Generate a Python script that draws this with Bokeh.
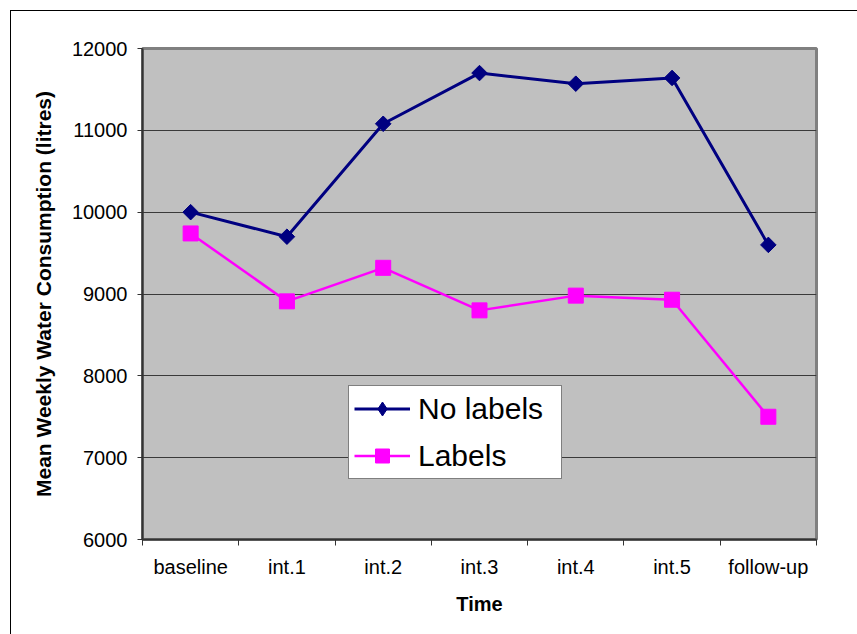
import math

from bokeh.embed import file_html
from bokeh.resources import INLINE
from bokeh.plotting import figure
from bokeh.models import FixedTicker, Legend, LegendItem, Range1d

# Mean weekly water consumption (litres) per time point
categories = ["baseline", "int.1", "int.2", "int.3", "int.4", "int.5", "follow-up"]
no_labels = [10000, 9700, 11080, 11700, 11570, 11640, 9600]
labels = [9740, 8910, 9320, 8800, 8980, 8930, 7500]
y_ticks = [6000, 7000, 8000, 9000, 10000, 11000, 12000]

# categories sit at the centre of unit-wide slots; ticks mark the slot edges
xs = [i + 0.5 for i in range(len(categories))]

FONT = "Liberation Sans"

p = figure(
    width=847, height=624,
    x_range=Range1d(0, len(categories)), y_range=Range1d(6000, 12000),
    output_backend="svg", toolbar_location=None,
    min_border_left=131, min_border_right=42,
    min_border_top=37, min_border_bottom=96,
)
p.styles = {
    "margin-left": "10px", "margin-top": "10px",
    "border-left": "1px solid #000000", "border-top": "1px solid #000000",
}

p.background_fill_color = "#C0C0C0"
p.border_fill_color = "white"
p.outline_line_color = "#808080"
p.outline_line_width = 3

# y axis
p.yaxis.ticker = FixedTicker(ticks=y_ticks)
p.yaxis.axis_line_color = "#333333"
p.yaxis.axis_line_width = 2
p.yaxis.major_tick_out = 5
p.yaxis.major_tick_in = 0
p.yaxis.major_tick_line_color = "#333333"
p.yaxis.minor_tick_line_color = None
p.yaxis.major_label_text_font = FONT
p.yaxis.major_label_text_font_size = "20px"
p.yaxis.major_label_text_color = "black"
p.yaxis.major_label_standoff = 10
p.yaxis.axis_label = "Mean Weekly Water Consumption (litres)"
p.yaxis.axis_label_text_font = FONT
p.yaxis.axis_label_text_font_size = "21px"
p.yaxis.axis_label_text_font_style = "bold"
p.yaxis.axis_label_text_color = "black"
p.yaxis.axis_label_standoff = 14

# x axis: labels at slot centres, tick marks at slot edges
p.xaxis.ticker = FixedTicker(ticks=xs, minor_ticks=list(range(len(categories) + 1)))
p.xaxis.major_label_overrides = {x: c for x, c in zip(xs, categories)}
p.xaxis.axis_line_color = "#333333"
p.xaxis.axis_line_width = 2
p.xaxis.major_tick_line_color = None
p.xaxis.minor_tick_out = 6
p.xaxis.minor_tick_in = 0
p.xaxis.minor_tick_line_color = "#333333"
p.xaxis.major_label_text_font = FONT
p.xaxis.major_label_text_font_size = "20px"
p.xaxis.major_label_text_color = "black"
p.xaxis.major_label_standoff = 10
p.xaxis.axis_label = "Time"
p.xaxis.axis_label_text_font = FONT
p.xaxis.axis_label_text_font_size = "20px"
p.xaxis.axis_label_text_font_style = "bold"
p.xaxis.axis_label_text_color = "black"
p.xaxis.axis_label_standoff = 12

p.xgrid.grid_line_color = None
p.ygrid.ticker = FixedTicker(ticks=y_ticks[1:-1])
p.ygrid.grid_line_color = "#3a3a3a"
p.ygrid.grid_line_width = 1.2

NAVY = "#000080"
MAGENTA = "#FF00FF"

l1 = p.line(xs, no_labels, line_color=NAVY, line_width=3)
# diamond keys: the narrow diamond supplies the legend swatch, the square
# turned by 45 degrees drawn over it gives the wide diamond on the chart
m1_key = p.scatter(xs, no_labels, marker="diamond", size=14,
                   fill_color=NAVY, line_color=NAVY)
p.scatter(xs, no_labels, marker="square", angle=math.pi / 4, size=11,
          fill_color=NAVY, line_color=NAVY)
l2 = p.line(xs, labels, line_color=MAGENTA, line_width=2.5)
m2 = p.scatter(xs, labels, marker="square", size=15,
               fill_color=MAGENTA, line_color=MAGENTA)

legend = Legend(
    items=[LegendItem(label="No labels", renderers=[l1, m1_key]),
           LegendItem(label="Labels", renderers=[l2, m2])],
    location=(206, 60),
    label_text_font=FONT, label_text_font_size="30px", label_text_color="black",
    glyph_width=56, glyph_height=35, label_height=35, label_width=138,
    label_standoff=8, spacing=12, padding=5, margin=0,
    border_line_color="black", border_line_width=1.5,
    background_fill_color="white", background_fill_alpha=1,
)
p.add_layout(legend, "center")

open("out.html", "w").write(file_html(p, INLINE))
